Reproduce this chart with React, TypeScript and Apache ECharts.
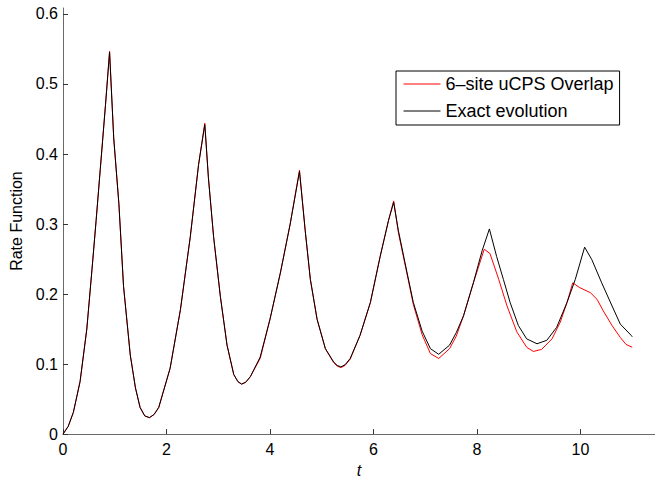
import React, { useEffect, useRef } from "react";
import * as echarts from "echarts";

const seriesNames = ["6–site uCPS Overlap", "Exact evolution"];

const xTicks = [0, 2, 4, 6, 8, 10];
const yTicks = [0, 0.1, 0.2, 0.3, 0.4, 0.5, 0.6];

const tExact = [
  0, 0.1, 0.2, 0.33, 0.46, 0.56, 0.64, 0.72, 0.82, 0.9, 0.98, 1.08, 1.17, 1.3, 1.4, 1.49, 1.58, 1.67, 1.76, 1.85,
  2.07, 2.27, 2.46, 2.62, 2.74, 2.81, 2.91, 3.04, 3.17, 3.3, 3.38, 3.45, 3.53, 3.62, 3.81, 4.0, 4.2, 4.39, 4.57,
  4.68, 4.78, 4.91, 5.07, 5.23, 5.3, 5.37, 5.45, 5.55, 5.74, 5.94, 6.13, 6.29, 6.39, 6.48, 6.65, 6.77, 6.94, 7.1,
  7.26, 7.47, 7.6, 7.74, 7.93, 8.1, 8.24, 8.38, 8.51, 8.64, 8.8, 8.96, 9.16, 9.35, 9.54, 9.74, 9.9, 10.08, 10.22,
  10.41, 10.61, 10.77, 10.98, 11.0,
];
const exact = [
  0, 0.011, 0.031, 0.075, 0.15, 0.235, 0.305, 0.378, 0.469, 0.545, 0.423, 0.329, 0.211, 0.113, 0.066, 0.038, 0.026,
  0.0235, 0.028, 0.038, 0.094, 0.178, 0.282, 0.385, 0.442, 0.366, 0.282, 0.197, 0.127, 0.085, 0.075, 0.0714, 0.074,
  0.082, 0.11, 0.164, 0.23, 0.3, 0.375, 0.291, 0.221, 0.164, 0.122, 0.103, 0.098, 0.096, 0.099, 0.108, 0.141,
  0.188, 0.254, 0.305, 0.331, 0.291, 0.23, 0.188, 0.147, 0.122, 0.114, 0.127, 0.145, 0.169, 0.216, 0.262, 0.293,
  0.2535, 0.221, 0.188, 0.155, 0.136, 0.129, 0.134, 0.1525, 0.188, 0.221, 0.267, 0.249, 0.216, 0.183, 0.157, 0.141,
  0.139,
];

const tOverlap = [
  0, 0.1, 0.2, 0.33, 0.46, 0.56, 0.64, 0.72, 0.82, 0.9, 0.98, 1.08, 1.17, 1.3, 1.4, 1.49, 1.58, 1.67, 1.76, 1.85,
  2.07, 2.27, 2.46, 2.62, 2.74, 2.81, 2.91, 3.04, 3.17, 3.3, 3.38, 3.45, 3.53, 3.62, 3.81, 4.0, 4.2, 4.39, 4.57,
  4.68, 4.78, 4.91, 5.07, 5.23, 5.3, 5.37, 5.45, 5.55, 5.74, 5.94, 6.13, 6.29, 6.39, 6.48, 6.65, 6.77, 6.94, 7.1,
  7.26, 7.47, 7.6, 7.74, 7.93, 8.14, 8.25, 8.42, 8.58, 8.77, 8.96, 9.09, 9.25, 9.45, 9.61, 9.74, 9.85, 9.99, 10.19,
  10.32, 10.44, 10.61, 10.77, 10.88, 11.0,
];
const overlap = [
  0, 0.011, 0.031, 0.075, 0.15, 0.235, 0.305, 0.378, 0.469, 0.547, 0.423, 0.329, 0.211, 0.113, 0.066, 0.038, 0.026,
  0.0235, 0.028, 0.038, 0.094, 0.178, 0.282, 0.385, 0.444, 0.366, 0.282, 0.197, 0.127, 0.085, 0.075, 0.0714, 0.074,
  0.082, 0.108, 0.164, 0.23, 0.3, 0.377, 0.291, 0.221, 0.164, 0.122, 0.102, 0.097, 0.095, 0.098, 0.107, 0.141,
  0.188, 0.254, 0.305, 0.333, 0.288, 0.228, 0.185, 0.142, 0.115, 0.108, 0.122, 0.14, 0.169, 0.216, 0.264, 0.258,
  0.221, 0.183, 0.146, 0.124, 0.118, 0.121, 0.136, 0.16, 0.188, 0.216, 0.209, 0.202, 0.1925, 0.176, 0.155, 0.138,
  0.128, 0.124,
];

const FONT = "'Liberation Sans', Arial, Helvetica, sans-serif";

export default function App() {
  const ref = useRef<HTMLDivElement>(null);
  useEffect(() => {
    if (!ref.current) return;
    const chart = echarts.init(ref.current, undefined, { renderer: "svg" });
    const axisLine = { show: true, lineStyle: { color: "#6a6a6a", width: 1 } };
    chart.setOption({
      animation: false,
      backgroundColor: "#ffffff",
      textStyle: { fontFamily: FONT },
      grid: { left: 63, right: 0, top: 8, bottom: 43, containLabel: false },
      legend: {
        orient: "vertical",
        left: 396,
        top: 71,
        padding: [4, 6, 5, 7],
        itemGap: 9,
        itemWidth: 37,
        itemHeight: 12,
        borderColor: "#000",
        borderWidth: 1,
        backgroundColor: "#fff",
        itemStyle: { opacity: 0 },
        lineStyle: { width: 1 },
        textStyle: { fontSize: 18, color: "#000", fontFamily: FONT },
        data: seriesNames,
      },
      xAxis: {
        type: "value",
        min: 0,
        max: 11.44,
        interval: 2,
        name: "t",
        nameLocation: "middle",
        nameGap: 21,
        nameTextStyle: { fontSize: 16, fontStyle: "italic", color: "#000", fontFamily: FONT },
        axisLine,
        axisTick: { show: true, inside: true, length: 5, lineStyle: { color: "#333" }, customValues: xTicks },
        axisLabel: { color: "#000", fontSize: 16, margin: 7, customValues: xTicks, fontFamily: FONT },
        splitLine: { show: false },
      },
      yAxis: {
        type: "value",
        min: 0,
        max: 0.6085,
        interval: 0.1,
        name: "Rate Function",
        nameLocation: "middle",
        nameGap: 38,
        nameTextStyle: { fontSize: 16, color: "#000", fontFamily: FONT },
        axisLine,
        axisTick: { show: true, inside: true, length: 5, lineStyle: { color: "#333" }, customValues: yTicks },
        axisLabel: { color: "#000", fontSize: 16, margin: 5, customValues: yTicks, fontFamily: FONT },
        splitLine: { show: false },
      },
      series: [
        {
          name: seriesNames[0],
          type: "line",
          symbol: "none",
          data: tOverlap.map((t, i) => [t, overlap[i]]),
          lineStyle: { color: "#ff0000", width: 1 },
          itemStyle: { color: "#ff0000" },
          z: 2,
        },
        {
          name: seriesNames[1],
          type: "line",
          symbol: "none",
          data: tExact.map((t, i) => [t, exact[i]]),
          lineStyle: { color: "#000000", width: 1 },
          itemStyle: { color: "#000000" },
          z: 3,
        },
      ],
    });
    return () => chart.dispose();
  }, []);
  return <div ref={ref} style={{ width: 655, height: 483, position: "absolute", left: 0, top: 0 }} />;
}
